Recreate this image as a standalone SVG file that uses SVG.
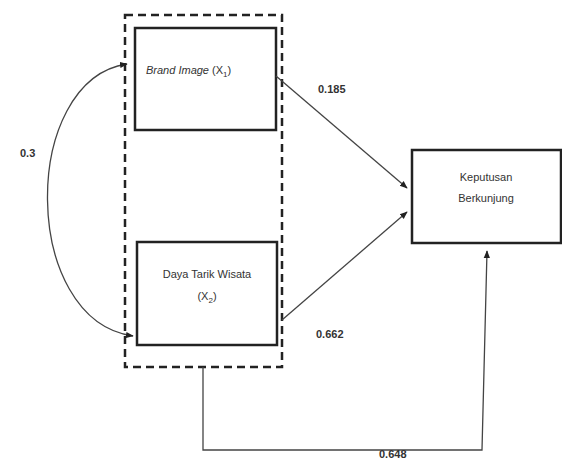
<svg xmlns="http://www.w3.org/2000/svg" width="562" height="462" viewBox="0 0 562 462">
<defs>
<marker id="ah" viewBox="0 0 10 10" refX="9" refY="5" markerWidth="6" markerHeight="6" orient="auto-start-reverse"><path d="M0,1 L10,5 L0,9 z" fill="#222"/></marker>
<style>
.box{fill:#fff;stroke:#222;stroke-width:2.5}
.t{font-family:"Liberation Sans",Arial,sans-serif;font-size:11px;fill:#333}
.lbl{font-family:"Liberation Sans",Arial,sans-serif;font-size:11px;font-weight:bold;fill:#333}
.c{fill:none;stroke:#444;stroke-width:1.3}
</style>
</defs>
<rect width="562" height="462" fill="#fff"/>
<g id="group-dashed">
<rect x="125" y="15" width="157" height="352" fill="none" stroke="#222" stroke-width="2.5" stroke-dasharray="8,5"/>
</g>
<g id="node-brand">
<rect class="box" x="135" y="28" width="141" height="102"/>
<text class="t" x="146" y="74"><tspan font-style="italic">Brand Image</tspan> (X<tspan font-size="8" dy="3">1</tspan><tspan dy="-3">)</tspan></text>
</g>
<g id="node-daya">
<rect class="box" x="137" y="242" width="140" height="103"/>
<text class="t" x="207" y="278" text-anchor="middle">Daya Tarik Wisata</text>
<text class="t" x="207" y="300" text-anchor="middle">(X<tspan font-size="8" dy="3">2</tspan><tspan dy="-3">)</tspan></text>
</g>
<g id="node-keputusan">
<rect class="box" x="412" y="150" width="149" height="93"/>
<text class="t" x="486" y="181" text-anchor="middle">Keputusan</text>
<text class="t" x="486" y="202" text-anchor="middle">Berkunjung</text>
</g>
<g id="connectors">
<path class="c" d="M127,64 C20,80 20,320 133,336" marker-start="url(#ah)" marker-end="url(#ah)"/>
<line class="c" x1="276" y1="76" x2="407" y2="188" marker-end="url(#ah)"/>
<line class="c" x1="282" y1="320" x2="407" y2="212" marker-end="url(#ah)"/>
<polyline class="c" points="203,367 203,450 482,450 487,251" marker-end="url(#ah)"/>
</g>
<g id="labels">
<text class="lbl" x="20" y="157">0.3</text>
<text class="lbl" x="318" y="93">0.185</text>
<text class="lbl" x="316" y="338">0.662</text>
<text class="lbl" x="379" y="458">0.648</text>
</g>
</svg>
